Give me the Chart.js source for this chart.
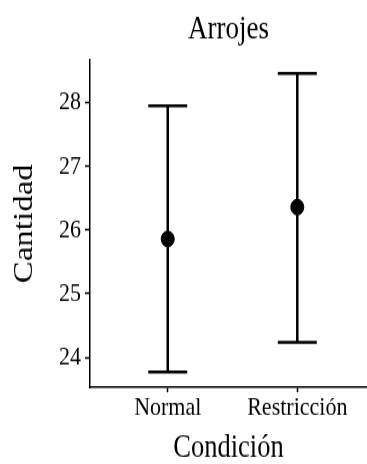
<!DOCTYPE html>
<html>
<head>
<meta charset="utf-8">
<script src="https://cdn.jsdelivr.net/npm/chart.js@4/dist/chart.umd.min.js"></script>
<style>
  html, body { margin: 0; padding: 0; background: #fff; }
  #wrap { width: 367px; height: 464px; position: relative; }
  /* la imagen original está un poco estirada en vertical */
  #chart { position: absolute; left: 0; top: 0; width: 367px; height: 387px; transform: scaleY(1.199); transform-origin: 0 0; }
</style>
</head>
<body>
<div id="wrap"><canvas id="chart" width="367" height="387"></canvas></div>
<script>
// datos
const categories = ['Normal', 'Restricción'];
const means = [25.86, 26.36];
const lower = [23.77, 24.24];
const upper = [27.95, 28.46];
const yTicks = [24, 25, 26, 27, 28];
const chartTitle = 'Arrojes';

const FONT = '"Liberation Serif", "DejaVu Serif", serif';

// barras de error + título centrado sobre el área del gráfico
const errorBars = {
  id: 'errorBars',
  beforeDatasetsDraw(chart) {
    const ctx = chart.ctx;
    const x = chart.scales.x, y = chart.scales.y;
    ctx.save();
    ctx.strokeStyle = '#000';
    ctx.lineWidth = 2.5;
    categories.forEach((c, i) => {
      const px = x.getPixelForValue(i + 1);
      const half = 19.5;
      const yl = y.getPixelForValue(lower[i]);
      const yh = y.getPixelForValue(upper[i]);
      ctx.beginPath();
      ctx.moveTo(px, yl); ctx.lineTo(px, yh);
      ctx.moveTo(px - half, yl); ctx.lineTo(px + half, yl);
      ctx.moveTo(px - half, yh); ctx.lineTo(px + half, yh);
      ctx.stroke();
    });
    ctx.restore();
  },
  afterDraw(chart) {
    const ctx = chart.ctx;
    const a = chart.chartArea;
    ctx.save();
    ctx.fillStyle = '#000';
    ctx.font = '27px ' + FONT;
    ctx.textAlign = 'center';
    ctx.textBaseline = 'middle';
    ctx.fillText(chartTitle, (a.left + a.right) / 2, 25);
    ctx.restore();
  }
};

new Chart(document.getElementById('chart'), {
  type: 'scatter',
  data: {
    datasets: [{
      data: means.map((m, i) => ({ x: i + 1, y: m })),
      backgroundColor: '#000',
      borderColor: '#000',
      pointRadius: 6.5,
      pointHoverRadius: 6.5
    }]
  },
  plugins: [errorBars],
  options: {
    responsive: false,
    animation: false,
    layout: { autoPadding: false, padding: { top: 50, right: 0, left: 8, bottom: 0 } },
    plugins: {
      legend: { display: false },
      tooltip: { enabled: false },
      title: { display: false }
    },
    scales: {
      x: {
        type: 'linear',
        min: 0.4,
        max: 2.538,
        afterBuildTicks: (s) => { s.ticks = categories.map((c, i) => ({ value: i + 1 })); },
        ticks: {
          color: '#000',
          font: { family: FONT, size: 22 },
          padding: 0,
          maxRotation: 0,
          autoSkip: false,
          callback: (v) => categories[v - 1]
        },
        grid: { drawOnChartArea: false, tickLength: 4, color: '#000', tickWidth: 1.5 },
        border: { color: '#000', width: 1.5 },
        title: {
          display: true,
          text: 'Condición',
          color: '#000',
          font: { family: FONT, size: 26.5, lineHeight: 1 },
          padding: { top: 7, bottom: 0 }
        }
      },
      y: {
        min: 23.53,
        max: 28.67,
        afterBuildTicks: (s) => { s.ticks = yTicks.map(v => ({ value: v })); },
        ticks: {
          color: '#000',
          font: { family: FONT, size: 22 },
          padding: 4
        },
        grid: { drawOnChartArea: false, tickLength: 5, color: '#000', tickWidth: 1.5 },
        border: { color: '#000', width: 1.5 },
        title: {
          display: true,
          text: 'Cantidad',
          color: '#000',
          font: { family: FONT, size: 27.5 },
          padding: { top: 0, bottom: 14 }
        }
      }
    }
  }
});
</script>
</body>
</html>
